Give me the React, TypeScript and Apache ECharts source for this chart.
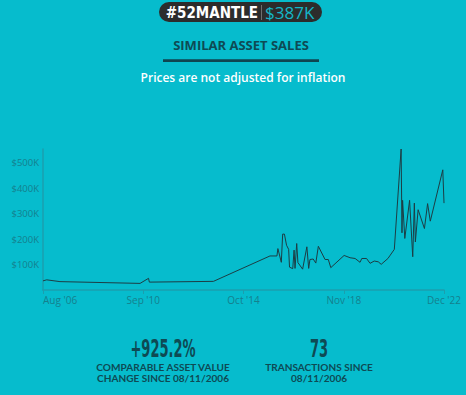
import React, { useEffect, useRef } from "react";
import * as echarts from "echarts";

const saleDates: string[] = [
  "2006-08-11", "2006-10-05", "2007-04-20", "2010-07-25", "2010-11-28", "2010-12-10",
  "2013-07-20", "2015-11-08", "2016-02-20", "2016-03-05", "2016-04-25", "2016-05-15",
  "2016-06-10", "2016-07-12", "2016-08-12", "2016-08-25", "2016-10-12", "2016-11-01",
  "2016-11-15", "2016-12-10", "2016-12-28", "2017-03-08", "2017-05-10", "2017-06-06",
  "2017-06-25", "2017-08-12", "2017-09-20", "2017-10-28", "2018-02-05", "2018-03-25",
  "2018-05-01", "2018-11-15", "2019-02-12", "2019-04-28", "2019-07-10", "2019-08-05",
  "2019-10-15", "2019-12-06", "2020-02-06", "2020-04-06", "2020-05-20", "2020-08-28",
  "2020-10-01", "2020-12-01", "2021-03-12", "2021-03-25", "2021-04-03", "2021-05-06",
  "2021-07-16", "2021-09-01", "2021-09-25", "2021-10-10", "2021-11-20", "2022-02-22",
  "2022-04-10", "2022-05-20", "2022-11-22", "2022-12-10",
];

const salePrices: number[] = [
  36000, 40000, 33000, 26000, 46000, 31000,
  34000, 134000, 134000, 163000, 109000, 220000,
  220000, 176000, 160000, 90000, 84000, 157000,
  85000, 183000, 108000, 82000, 170000, 85000,
  120000, 122000, 106000, 172000, 120000, 120000,
  88000, 136000, 127000, 124000, 109000, 124000,
  124000, 105000, 114000, 111000, 101000, 124000,
  137000, 160000, 555000, 225000, 353000, 203000,
  353000, 131000, 342000, 189000, 316000, 242000,
  340000, 271000, 473000, 342000,
];

const yTicks: number[] = [100000, 200000, 300000, 400000, 500000];

const propertyName = "#52MANTLE";
const propertyValue = "$387K";
const changePct = "+925.2%";
const transactionCount = "73";
const sinceDate = "08/11/2006";
const changeCaption = ["COMPARABLE ASSET VALUE", "CHANGE SINCE " + sinceDate];
const countCaption = ["TRANSACTIONS SINCE", sinceDate];

const MONTHS = ["Jan", "Feb", "Mar", "Apr", "May", "Jun", "Jul", "Aug", "Sep", "Oct", "Nov", "Dec"];

export default function App() {
  const ref = useRef<HTMLDivElement>(null);

  useEffect(() => {
    document.body.style.margin = "0";
    if (!ref.current) return;
    const chart = echarts.init(ref.current, null, { renderer: "svg" });

    const times = saleDates.map((d) => new Date(d + "T00:00:00Z").getTime());
    const tMin = times[0];
    const tMax = times[times.length - 1];
    const xTicks = [0, 1, 2, 3, 4].map((k) => tMin + ((tMax - tMin) * k) / 4);
    const data = times.map((t, i) => [t, salePrices[i]]);

    const axisColor = "#1b9fae";
    const labelColor = "#15808d";
    const dark = "#0e4a54";

    const caption = (text: string, x: number, y: number) => ({
      type: "text",
      x,
      y,
      scaleX: 1.12,
      style: {
        text,
        fill: dark,
        font: "bold 9px 'Lato'",
        align: "center",
        verticalAlign: "middle",
      },
    });

    chart.setOption({
      animation: false,
      backgroundColor: "#06bccd",
      grid: { left: 43, right: 22, top: 149, bottom: 105 },
      xAxis: {
        type: "value",
        min: tMin,
        max: tMax,
        axisLine: { show: true, lineStyle: { color: axisColor, width: 1.5 } },
        axisTick: { show: true, customValues: xTicks, length: 4, lineStyle: { color: axisColor, width: 1 } },
        splitLine: { show: false },
        axisLabel: {
          customValues: xTicks,
          color: labelColor,
          fontSize: 10,
          fontFamily: "Open Sans",
          margin: 5,
          alignMinLabel: "left",
          formatter: (v: number) => {
            const d = new Date(v);
            return MONTHS[d.getUTCMonth()] + " '" + String(d.getUTCFullYear()).slice(2);
          },
        },
      },
      yAxis: {
        type: "value",
        min: 0,
        max: "dataMax",
        axisLine: { show: true, lineStyle: { color: axisColor, width: 1.5 } },
        axisTick: { show: false },
        splitLine: { show: false },
        axisLabel: {
          customValues: yTicks,
          color: labelColor,
          fontSize: 9.5,
          fontFamily: "Open Sans",
          margin: 4,
          formatter: (v: number) => "$" + v / 1000 + "K",
        },
      },
      series: [
        {
          type: "line",
          data,
          showSymbol: false,
          symbol: "none",
          lineStyle: { color: "#1d3d44", width: 1 },
        },
      ],
      graphic: [
        { type: "rect", shape: { x: 159, y: 2, width: 163, height: 20, r: 10 }, style: { fill: "#2c2c2c" } },
        {
          type: "text",
          x: 258,
          y: 12.5,
          style: {
            text: propertyName,
            fill: "#ffffff",
            font: "bold 15px 'DejaVu Sans Condensed'",
            align: "right",
            verticalAlign: "middle",
          },
        },
        { type: "line", shape: { x1: 261.5, y1: 5, x2: 261.5, y2: 20 }, style: { stroke: "#6f6f6f", lineWidth: 1 } },
        {
          type: "text",
          x: 265,
          y: 12.5,
          style: {
            text: propertyValue,
            fill: "#14b7c8",
            font: "17px 'Open Sans'",
            align: "left",
            verticalAlign: "middle",
          },
        },
        {
          type: "text",
          x: 241,
          y: 45,
          style: {
            text: "SIMILAR ASSET SALES",
            fill: dark,
            font: "bold 13px 'Open Sans'",
            align: "center",
            verticalAlign: "middle",
          },
        },
        { type: "rect", shape: { x: 163, y: 59.3, width: 156, height: 2.7 }, style: { fill: "#0f4550" } },
        {
          type: "text",
          x: 243,
          y: 77,
          style: {
            text: "Prices are not adjusted for inflation",
            fill: "#ffffff",
            font: "600 12px 'Open Sans'",
            align: "center",
            verticalAlign: "middle",
          },
        },
        {
          type: "text",
          x: 163,
          y: 348,
          scaleX: 0.58,
          style: {
            text: changePct,
            fill: dark,
            font: "bold 25px 'DejaVu Sans Condensed'",
            align: "center",
            verticalAlign: "middle",
          },
        },
        caption(changeCaption[0], 163, 367.5),
        caption(changeCaption[1], 163, 378.5),
        {
          type: "text",
          x: 319,
          y: 348,
          scaleX: 0.58,
          style: {
            text: transactionCount,
            fill: dark,
            font: "bold 25px 'DejaVu Sans Condensed'",
            align: "center",
            verticalAlign: "middle",
          },
        },
        caption(countCaption[0], 319, 367.5),
        caption(countCaption[1], 319, 378.5),
      ],
    });

    return () => chart.dispose();
  }, []);

  return <div ref={ref} style={{ width: 466, height: 395 }} />;
}
